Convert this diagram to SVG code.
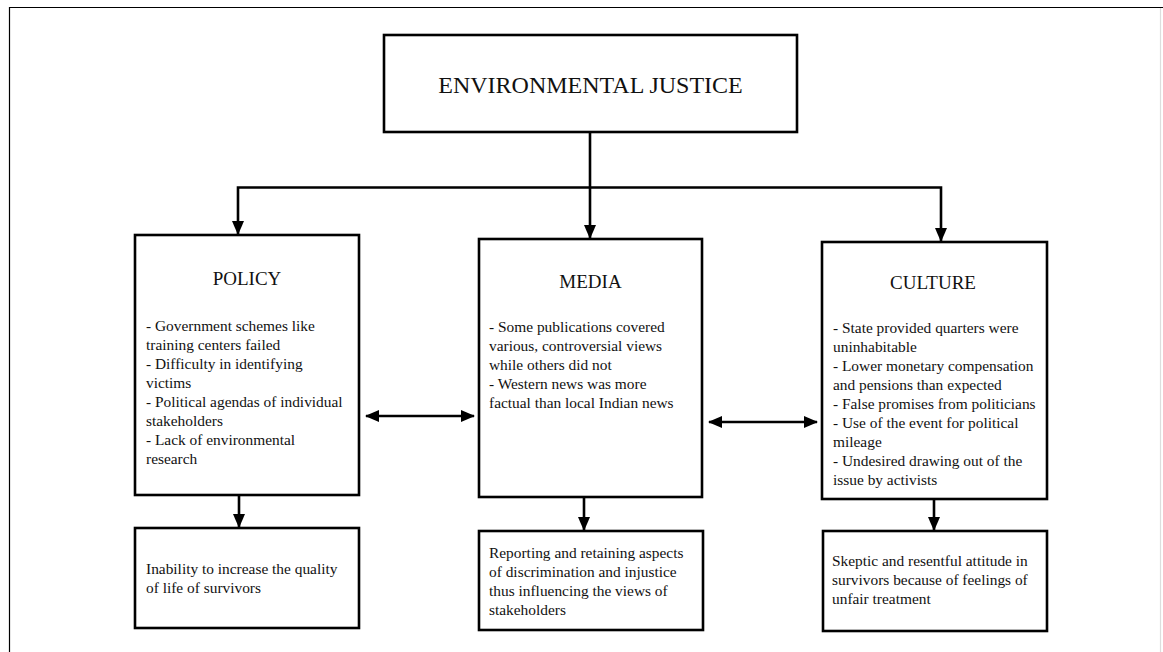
<svg xmlns="http://www.w3.org/2000/svg" width="1163" height="652" viewBox="0 0 1163 652">
<defs>
<marker id="ah" markerUnits="userSpaceOnUse" markerWidth="14" markerHeight="12" refX="13" refY="6" orient="auto-start-reverse">
<path d="M0,0 L14,6 L0,12 z" fill="#000"/>
</marker>
<style>
.box{fill:#fff;stroke:#000;stroke-width:2.6}
.t{font-family:"Liberation Serif","Times New Roman",serif;fill:#111}
.b{font-size:15.4px}
.h{font-size:19px}
.c{fill:none;stroke:#000;stroke-width:2.6}
</style>
</defs>
<rect width="1163" height="652" fill="#fff"/>
<g id="frame">
<path d="M9.5,652 V7.5 H1163" fill="none" stroke="#000" stroke-width="1.2"/>
<path d="M1160.5,8 V652" fill="none" stroke="#ddd" stroke-width="1.2"/>
</g>
<g id="connectors">
<path class="c" d="M590,132 V238" marker-end="url(#ah)"/>
<path class="c" d="M590,187.5 H238 V234" marker-end="url(#ah)"/>
<path class="c" d="M590,187.5 H941 V241" marker-end="url(#ah)"/>
<path class="c" d="M239,495 V527" marker-end="url(#ah)"/>
<path class="c" d="M584,497 V530" marker-end="url(#ah)"/>
<path class="c" d="M934,499 V530" marker-end="url(#ah)"/>
<path class="c" d="M366,416 H474" marker-start="url(#ah)" marker-end="url(#ah)"/>
<path class="c" d="M709,422 H817" marker-start="url(#ah)" marker-end="url(#ah)"/>
</g>
<g id="env">
<rect class="box" x="384" y="35" width="413" height="97"/>
<text class="t" x="590.5" y="93" font-size="24" text-anchor="middle">ENVIRONMENTAL JUSTICE</text>
</g>
<g id="policy">
<rect class="box" x="135" y="235" width="224" height="260"/>
<text class="t h" x="247" y="284.5" text-anchor="middle">POLICY</text>
<text class="t b" x="146" y="331">
<tspan x="146">- Government schemes like</tspan>
<tspan x="146" dy="19">training centers failed</tspan>
<tspan x="146" dy="19">- Difficulty in identifying</tspan>
<tspan x="146" dy="19">victims</tspan>
<tspan x="146" dy="19">- Political agendas of individual</tspan>
<tspan x="146" dy="19">stakeholders</tspan>
<tspan x="146" dy="19">- Lack of environmental</tspan>
<tspan x="146" dy="19">research</tspan>
</text>
</g>
<g id="media">
<rect class="box" x="479" y="239" width="223" height="258"/>
<text class="t h" x="590.5" y="287.5" text-anchor="middle">MEDIA</text>
<text class="t b" x="489" y="332">
<tspan x="489">- Some publications covered</tspan>
<tspan x="489" dy="19">various, controversial views</tspan>
<tspan x="489" dy="19">while others did not</tspan>
<tspan x="489" dy="19">- Western news was more</tspan>
<tspan x="489" dy="19">factual than local Indian news</tspan>
</text>
</g>
<g id="culture">
<rect class="box" x="822" y="242" width="225" height="257"/>
<text class="t h" x="933" y="289" text-anchor="middle">CULTURE</text>
<text class="t b" x="833" y="333">
<tspan x="833">- State provided quarters were</tspan>
<tspan x="833" dy="19">uninhabitable</tspan>
<tspan x="833" dy="19">- Lower monetary compensation</tspan>
<tspan x="833" dy="19">and pensions than expected</tspan>
<tspan x="833" dy="19">- False promises from politicians</tspan>
<tspan x="833" dy="19">- Use of the event for political</tspan>
<tspan x="833" dy="19">mileage</tspan>
<tspan x="833" dy="19">- Undesired drawing out of the</tspan>
<tspan x="833" dy="19">issue by activists</tspan>
</text>
</g>
<g id="policy-result">
<rect class="box" x="135" y="528" width="224" height="100"/>
<text class="t b" x="146" y="574">
<tspan x="146">Inability to increase the quality</tspan>
<tspan x="146" dy="19">of life of survivors</tspan>
</text>
</g>
<g id="media-result">
<rect class="box" x="479" y="531" width="224" height="99"/>
<text class="t b" x="489" y="558">
<tspan x="489">Reporting and retaining aspects</tspan>
<tspan x="489" dy="19">of discrimination and injustice</tspan>
<tspan x="489" dy="19">thus influencing the views of</tspan>
<tspan x="489" dy="19">stakeholders</tspan>
</text>
</g>
<g id="culture-result">
<rect class="box" x="823" y="531" width="224" height="100"/>
<text class="t b" x="832" y="566">
<tspan x="832">Skeptic and resentful attitude in</tspan>
<tspan x="832" dy="19">survivors because of feelings of</tspan>
<tspan x="832" dy="19">unfair treatment</tspan>
</text>
</g>
</svg>
